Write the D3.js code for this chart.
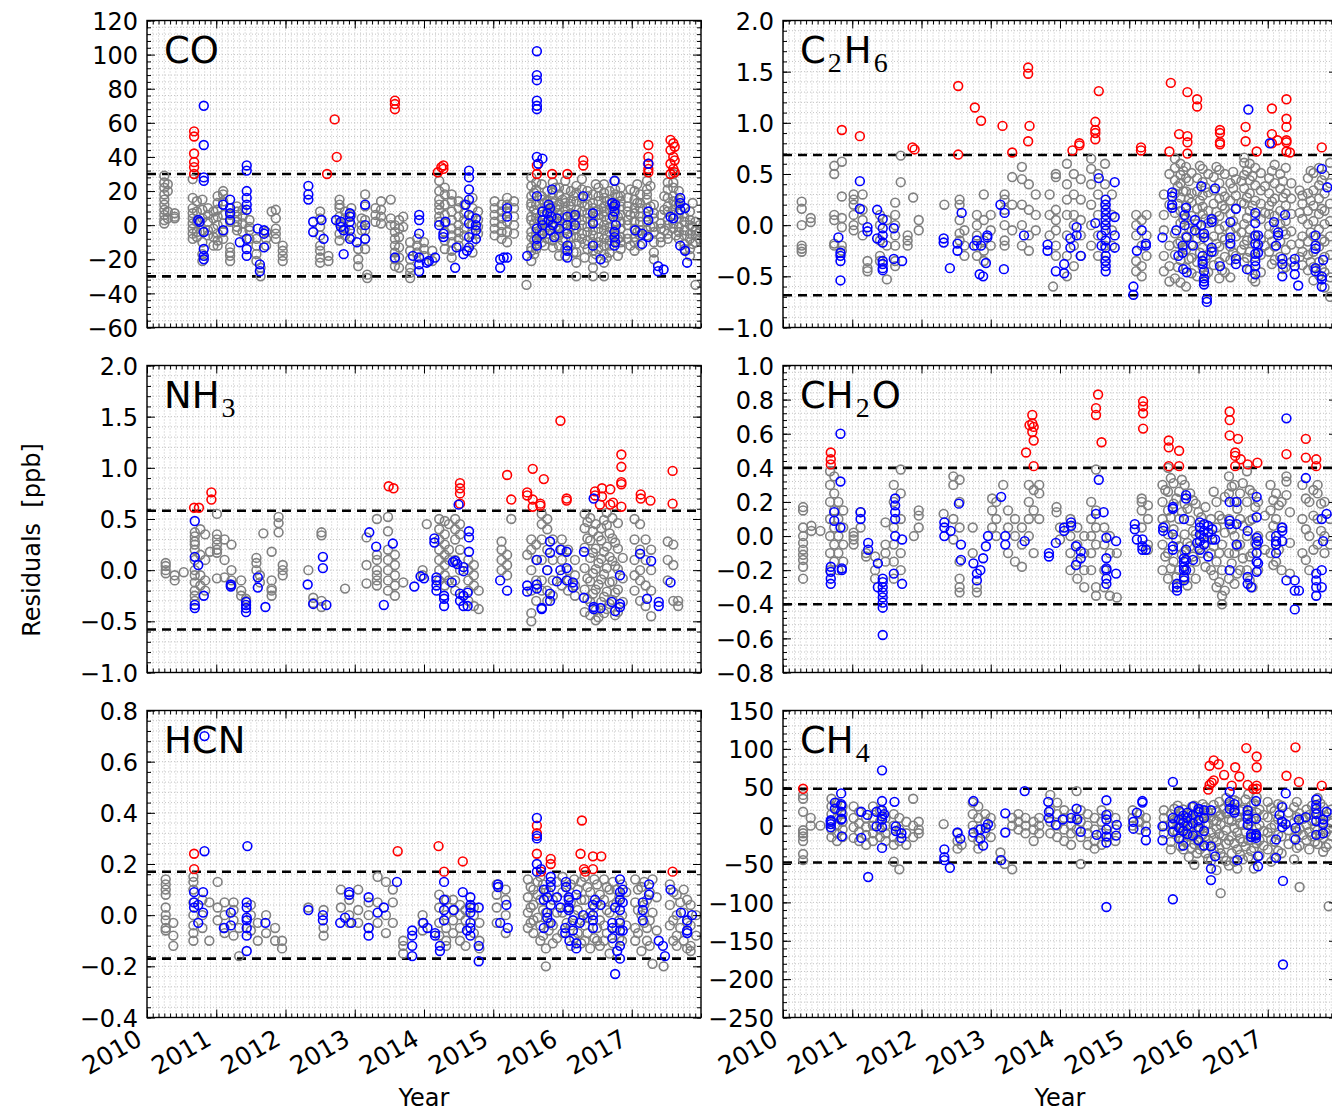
<!DOCTYPE html>
<html>
<head>
<meta charset="utf-8">
<script src="https://cdn.jsdelivr.net/npm/d3@7"></script>
<style>
body { margin: 0; background: #fff; }
svg { display: block; font-family: "DejaVu Sans", sans-serif; }
</style>
</head>
<body>
<svg id="chart" width="1332" height="1111"></svg>
<script>
const yearTicks = [2010, 2011, 2012, 2013, 2014, 2015, 2016, 2017];

// every series is a list of [decimal year, [residuals on that date]]
const coTicks = [-60, -40, -20, 0, 20, 40, 60, 80, 100, 120];
const coGray = [
  [2010.25,[29,25,22,18,15,12,9,6,3,1]],[2010.30,[24,20,8,4]],[2010.40,[7,5,4]],
  [2010.66,[27,16,10,7,4,1,-2,-5,-8]],[2010.72,[14,8,2,-4,-7]],[2010.80,[15,9,4,-3,-10,-17,-21]],
  [2010.88,[10,6,2,-3,-6]],[2010.96,[8,4,-2,-7,-12]],[2011.02,[17,13,9,5,0,-5,-9,-12]],
  [2011.10,[20,18,14,6,1,-4,-8]],[2011.20,[10,6,2,-13,-16,-18,-21]],[2011.30,[11,8,5,2,-1,-3]],
  [2011.38,[9,5,1,-4]],[2011.48,[3,-1,-3,-8]],[2011.58,[-8,-12,-17,-21]],[2011.64,[-25,-30]],
  [2011.72,[-4,-8,-12]],[2011.80,[8]],[2011.86,[9,4,-2,-5,-8]],[2011.96,[-12,-15,-18,-21]],
  [2012.50,[8,4,-1,-6,-12,-15,-19,-22]],[2012.62,[-18,-21]],[2012.78,[15,12,10,5,1,-5,-9]],
  [2012.86,[8,4,-2,-6]],[2012.95,[10,6,0,-7]],[2013.05,[-14,-20,-24]],[2013.10,[4,0,-3]],
  [2013.15,[18,11,3,-3,-8,-14]],[2013.18,[-29,-31]],[2013.30,[10,6,2]],[2013.38,[14,9,5,1]],
  [2013.52,[15,4,0]],[2013.58,[0,-4,-8,-12,-16,-20,-24]],[2013.64,[3,-2,-7,-13,-19,-25]],
  [2013.70,[5,-1]],[2013.80,[-10,-15,-20,-25,-28,-31]],[2013.90,[-8,-12,-16]],[2014.00,[-10,-14,-18]],
  [2014.12,[-15,-21]],[2014.22,[26,20,15,12,9,5,2]],[2014.30,[22,18,12,6,1,-4,-9,-14]],
  [2014.40,[18,14,8,3,-2,-6,-10,-15,-19]],[2014.50,[14,10,5,0,-4,-8,-12]],[2014.58,[12,7,3,-2,-6]],
  [2014.70,[16,10,5,0,-5,-10,-16]],[2014.78,[8,3,-1,-5]],[2015.02,[14,10,6,2,-2,-6]],
  [2015.12,[12,8,4,0,-4,-8]],[2015.20,[16,12,8,2,-4,-10]],[2015.30,[14,10,5,0,-5]],[2015.48,[-35]],
  [2015.55,[28,23,17,13,11,5,3,-4,-7,-13,-15,-21]],[2015.59,[19,9,1,-9,-17]],
  [2015.62,[25,21,12,7,4,-2,-5,-11,-14]],[2015.70,[24,17,15,10,6,1,-3,-6,-10]],[2015.74,[13,3,-12]],
  [2015.78,[20,14,11,8,2,-1,-5,-8]],[2015.86,[25,19,16,13,7,4,1,-4,-9,-13]],[2015.90,[22,10,-1,-6]],
  [2015.95,[22,18,12,9,6,2,-3,-6,-12,-18]],[2016.00,[15,4,-9]],
  [2016.04,[26,21,16,13,9,6,1,-2,-8,-14,-18]],[2016.12,[20,14,11,7,2,-1,-7,-12]],[2016.16,[17,5,-3,-16]],
  [2016.20,[23,19,14,9,6,3,-2,-7,-11,-16,-22,-30]],[2016.28,[27,21,16,13,8,3,0,-5,-8]],[2016.32,[11,-11,-19]],
  [2016.36,[20,17,12,7,4,-1,-4,-9,-14]],[2016.44,[18,13,10,5,2,-3,-6,-10,-15,-20,-25,-30]],[2016.48,[24,8,-17]],
  [2016.52,[22,17,14,9,6,1,-2,-7,-10,-14]],[2016.60,[24,19,16,11,8,5,0,-3,-8,-12,-17,-22,-30]],
  [2016.64,[14,3,-6,-19]],[2016.68,[20,15,12,9,4,-1,-4,-9,-12,-16]],[2016.76,[26,21,18,13,10,7,2,-3,-6,-10]],
  [2016.80,[17,5,-8,-18]],[2016.84,[22,17,14,11,6,2,-2,-7,-10,-14]],[2016.94,[16,11,8,3,0,-5,-8]],
  [2016.98,[21,6,-12]],[2017.04,[20,15,10,7,2,-2,-7,-10,-15]],[2017.08,[24,13,-4]],
  [2017.12,[18,13,10,5,2,-3,-6,-12]],[2017.22,[26,21,18,15,10,5,2,-3,-6]],[2017.27,[23,11,-1]],
  [2017.32,[12,7,4,-1,-4,-10,-16,-20]],[2017.42,[6,1,-2,-7,-10]],[2017.47,[17,9,-3]],
  [2017.52,[25,21,16,11,8,3,0,-5,-8]],[2017.60,[30,25,22,17,14,9,6,1,-2]],[2017.64,[12,-6]],
  [2017.68,[20,15,12,7,4,-1,-4,-8]],[2017.76,[10,5,2,-3,-6,-11,-14]],[2017.84,[8,3,0,-5,-8,-14,-18]],
  [2017.88,[13,-1,-11]],[2017.92,[2,-3,-6,-10,-35]],[2017.98,[0,-4,-8]]
];
const coBlue = [
  [2010.74,[3]],[2010.76,[2]],[2010.82,[70,47,28,26,-4,-14,-18,-20]],
  [2011.10,[12,-3]],[2011.20,[15,10,7,3]],[2011.34,[-10]],[2011.44,[35,32,20,16,12,9,-8,-14,-18]],
  [2011.60,[-2]],[2011.63,[-23,-27]],[2011.69,[-3,-5,-13]],
  [2012.33,[23,18,15]],[2012.40,[2,-4]],[2012.52,[3]],[2012.55,[-8]],[2012.73,[3]],[2012.80,[2,-1]],
  [2012.84,[-3,-17]],[2012.93,[7,5,2,-3,-8]],[2013.03,[-10]],[2013.15,[12,0,-8]],[2013.58,[-19]],
  [2013.84,[-18]],[2013.93,[6,3,-5,-19,-23,-27]],[2014.04,[-22]],[2014.07,[-21]],[2014.16,[-19]],
  [2014.22,[0]],[2014.28,[-5,-7]],[2014.31,[2]],[2014.45,[-25]],[2014.47,[-13]],[2014.57,[-17]],
  [2014.60,[12]],[2014.62,[-15]],[2014.65,[32,28,21,15,6,1,-7,-13]],[2014.75,[4,0,-3,-8]],
  [2015.10,[-20,-25]],[2015.15,[-19]],[2015.20,[10,5,-19]],[2015.49,[-18]],
  [2015.63,[102,88,85,73,70,68,40,17,-2,-8,-12]],[2015.65,[36]],[2015.71,[39,8,3,0,-5]],
  [2015.78,[7]],[2015.80,[12,3]],[2015.82,[10,-3]],[2015.84,[5]],[2015.85,[21]],[2015.86,[0]],
  [2015.88,[-7]],[2015.92,[4]],[2015.95,[-2]],
  [2016.07,[5,0,-5,-12,-15,-19]],[2016.18,[6,0]],[2016.30,[17]],[2016.44,[7,1,-12]],[2016.55,[-20]],
  [2016.72,[13]],[2016.73,[5]],[2016.74,[11]],[2016.75,[26,8,-4,-7,-12]],[2016.76,[12,-10]],[2016.77,[0]],
  [2017.05,[-3]],[2017.15,[-5,-11]],[2017.24,[36,8,3,-7]],[2017.38,[-24,-27]],[2017.46,[-26]],
  [2017.56,[5]],[2017.60,[4]],[2017.70,[16,13,9,-12]],[2017.77,[10,-15]],[2017.80,[-22]]
];
const coRed = [
  [2010.68,[55,52,42,37,34,30]],[2012.60,[30]],[2012.71,[62]],[2012.74,[40]],[2013.58,[73,71,68]],
  [2014.20,[31]],[2014.25,[34]],[2014.28,[35,33]],[2015.63,[35,30]],[2015.85,[30]],[2016.07,[30]],
  [2016.30,[38,35]],[2017.24,[47,40,36,33,31]],[2017.56,[50,44,36,30]],[2017.60,[48,40,33]],
  [2017.62,[46,38,31]]
];

const c2h6Ticks = [-1.0, -0.5, 0.0, 0.5, 1.0, 1.5, 2.0];
const c2h6Gray = [
  [2010.27,[0.23,0.16,0.0,-0.2,-0.23,-0.26]],[2010.40,[0.07,0.03]],[2010.74,[0.58,0.5,0.1,0.05,-0.18,-0.2]],
  [2010.85,[0.62,0.28,0.07,-0.02,-0.2,-0.25]],[2011.02,[0.3,0.25,0.2,0.1,0.0,-0.05]],
  [2011.15,[0.3,0.15,0.05,-0.1]],[2011.22,[-0.35,-0.42,-0.45]],[2011.40,[0.1,0.0,-0.15,-0.3,-0.35]],
  [2011.50,[0.05,-0.2,-0.53]],[2011.62,[0.22,0.1,0.0,-0.1,-0.2,-0.35,-0.4]],[2011.70,[0.68,0.42]],
  [2011.80,[-0.1,-0.15,-0.2]],[2011.88,[0.27]],[2011.96,[0.05,-0.05]],[2012.33,[0.2]],
  [2012.55,[0.25,0.2,0.05,-0.08,-0.15]],[2012.62,[-0.05,-0.2,-0.3]],[2012.80,[0.1,0.0,-0.1,-0.2,-0.3]],
  [2012.90,[0.3,0.05,-0.15,-0.25,-0.35]],[2013.00,[0.1,-0.05,-0.2]],
  [2013.20,[0.3,0.25,0.15,0.0,-0.15,-0.2]],[2013.31,[0.47,0.2,-0.05]],[2013.45,[0.57,0.45,0.2,0.0,-0.2]],
  [2013.55,[0.4,0.15,-0.1,-0.25]],[2013.65,[0.3,0.1,-0.05]],[2013.85,[0.3,0.1,-0.1]],[2013.90,[-0.6]],
  [2013.94,[0.5,0.47,0.15,0.05,-0.05,-0.2,-0.3]],[2014.10,[0.6,0.4,0.25,0.1,-0.1,-0.3,-0.5]],
  [2014.20,[0.5,0.3,0.1,0.0,-0.2,-0.4]],[2014.30,[0.45,0.25,0.05,-0.1,-0.3]],
  [2014.45,[0.65,0.55,0.4,0.2,0.0,-0.2]],[2014.55,[0.5,0.3,0.1,-0.1,-0.3]],
  [2014.65,[0.6,0.4,0.2,0.0,-0.2,-0.35]],[2014.75,[0.3,0.1,-0.05,-0.2]],
  [2015.10,[0.1,0.0,-0.1,-0.35,-0.45]],[2015.18,[0.05,-0.2,-0.4,-0.5]],[2015.25,[0.1,-0.1,-0.3]],
  [2015.50,[0.3,0.1,-0.05,-0.3,-0.45]],[2015.58,[0.5,0.2,-0.2,-0.4,-0.55]],
  [2015.66,[0.65,0.56,0.44,0.31,0.12,-0.08,-0.29,-0.52]],[2015.70,[0.38,0.21,-0.18,-0.41]],
  [2015.74,[0.6,0.49,0.41,0.27,0.14,0.02,-0.16,-0.34,-0.56]],[2015.78,[0.53,0.33,0.06,-0.22]],
  [2015.82,[0.57,0.46,0.33,0.19,0.07,-0.11,-0.24,-0.42,-0.6]],[2015.86,[0.43,0.26,-0.03,-0.33]],
  [2015.90,[0.51,0.31,0.22,0.09,-0.06,-0.19,-0.32,-0.47]],[2015.98,[0.46,0.33,0.16,0.01,-0.13,-0.36,-0.5]],
  [2016.02,[0.58,0.24,-0.08,-0.27]],[2016.06,[0.55,0.42,0.29,0.18,0.11,-0.09,-0.22,-0.41]],
  [2016.10,[0.37,0.06,-0.33,-0.49]],[2016.14,[0.5,0.32,0.14,0.02,-0.16,-0.29,-0.46]],
  [2016.22,[0.47,0.34,0.21,0.04,-0.11,-0.26,-0.39]],[2016.26,[0.57,0.13,-0.18]],
  [2016.30,[0.54,0.41,0.26,0.09,-0.04,-0.21,-0.36,-0.52]],[2016.34,[0.33,0.19,-0.12,-0.44]],
  [2016.38,[0.5,0.28,0.16,-0.01,-0.14,-0.31,-0.46]],[2016.46,[0.41,0.24,0.11,-0.06,-0.21,-0.34,-0.51]],
  [2016.50,[0.52,0.36,0.04,-0.27]],[2016.54,[0.45,0.29,0.16,-0.02,-0.11,-0.3]],
  [2016.62,[0.43,0.22,-0.07,-0.24]],[2016.66,[0.66,0.61,0.49,0.36,0.21,0.01,-0.19,-0.36]],
  [2016.70,[0.53,0.27,0.07,-0.15,-0.32]],[2016.74,[0.6,0.44,0.31,0.14,-0.04,-0.26,-0.44]],
  [2016.78,[0.48,0.19,-0.13,-0.52]],[2016.82,[0.56,0.39,0.24,0.09,-0.11,-0.31,-0.55]],
  [2016.90,[0.51,0.34,0.21,0.06,-0.14,-0.29,-0.46]],[2016.96,[0.38,0.12,-0.2]],
  [2017.02,[0.46,0.31,0.19,0.11,-0.01,-0.09,-0.26]],[2017.06,[0.53,0.23,-0.16,-0.38]],
  [2017.10,[0.59,0.41,0.26,0.09,-0.04,-0.21,-0.34]],[2017.18,[0.5,0.36,0.14,0.01,-0.16,-0.31]],
  [2017.22,[0.43,0.27,-0.06,-0.43]],[2017.26,[0.56,0.31,0.19,0.04,-0.09,-0.24,-0.41]],
  [2017.34,[0.41,0.26,0.11,-0.06,-0.19,-0.36]],[2017.46,[0.34,0.12,-0.18,-0.31]],
  [2017.50,[0.29,0.21,0.06,-0.11,-0.26,-0.39]],[2017.58,[0.46,0.31,0.14,0.01,-0.16,-0.29,-0.44]],
  [2017.62,[0.53,0.24,-0.07,-0.36]],[2017.66,[0.51,0.34,0.19,0.04,-0.11,-0.26,-0.41,-0.54]],
  [2017.74,[0.56,0.39,0.26,0.11,-0.04,-0.21,-0.36,-0.49]],[2017.78,[0.44,0.16,-0.14,-0.42]],
  [2017.82,[0.49,0.31,0.14,0.01,-0.16,-0.31,-0.46,-0.61]],[2017.90,[0.61,0.41,0.21,0.04,-0.11,-0.29,-0.51,-0.7]]
];
const c2h6Blue = [
  [2010.80,[-0.12]],[2010.83,[-0.27,-0.3,-0.35,-0.54]],[2011.11,[0.43,0.16]],[2011.22,[-0.02,-0.06]],
  [2011.36,[0.15,-0.13]],[2011.44,[0.06,-0.03,-0.1,-0.17,-0.35,-0.38,-0.42,-0.44]],[2011.60,[-0.03,-0.33]],
  [2011.72,[-0.35]],[2012.32,[-0.13,-0.17]],[2012.41,[-0.42]],[2012.52,[-0.18,-0.25]],[2012.58,[0.12]],
  [2012.76,[-0.2]],[2012.80,[-0.15]],[2012.84,[-0.48]],[2012.86,[-0.2]],[2012.89,[-0.5]],[2012.93,[-0.37]],
  [2012.95,[-0.1,-0.12]],[2013.14,[0.2]],[2013.19,[-0.43]],[2013.20,[0.12]],[2013.48,[-0.1]],
  [2013.82,[-0.19,-0.25]],[2013.94,[-0.45]],[2014.06,[-0.38,-0.47]],[2014.15,[-0.13,-0.22]],
  [2014.24,[-0.02,-0.1]],[2014.30,[-0.3]],[2014.51,[0.02]],[2014.56,[0.46]],[2014.60,[-0.1,-0.2]],
  [2014.66,[0.25,0.2,0.15,0.1,0.05,0.0,-0.05,-0.15,-0.22,-0.3,-0.35,-0.4,-0.45]],
  [2014.79,[0.42,0.08,-0.1,-0.22]],[2015.06,[-0.6,-0.68]],[2015.11,[-0.25]],[2015.18,[-0.05]],
  [2015.24,[-0.18,-0.2]],[2015.48,[-0.12]],[2015.62,[0.32,0.28,0.2,0.17]],[2015.68,[-0.05]],
  [2015.71,[-0.3]],[2015.77,[-0.2,-0.27]],[2015.78,[-0.43]],[2015.80,[0.1,0.0]],[2015.82,[0.17]],
  [2015.83,[-0.12,-0.46]],[2015.92,[-0.2]],[2015.95,[0.05,-0.05]],[2016.04,[0.38,0.0]],
  [2016.06,[-0.3,-0.35,-0.38]],[2016.08,[-0.08,-0.12,-0.45,-0.52,-0.55,-0.58]],[2016.12,[-0.72,-0.75]],
  [2016.19,[0.06,0.03,-0.22,-0.26]],[2016.24,[0.36]],[2016.31,[-0.4]],[2016.46,[0.03,-0.12,-0.18]],
  [2016.54,[0.16,-0.33,-0.38]],[2016.70,[-0.43]],[2016.72,[1.13]],
  [2016.82,[0.12,0.02,-0.1,-0.18,-0.28,-0.35,-0.4,-0.48]],[2016.86,[-0.1,-0.19,-0.27]],
  [2017.03,[0.8]],[2017.09,[0.03]],[2017.12,[-0.2]],[2017.15,[-0.07,-0.1]],[2017.21,[-0.33,-0.38,-0.5]],
  [2017.25,[0.1]],[2017.39,[-0.33,-0.4,-0.48]],[2017.44,[-0.59]],[2017.69,[-0.1,-0.2,-0.23,-0.42,-0.45]],
  [2017.78,[0.55,-0.5,-0.53,-0.6]],[2017.80,[-0.34]],[2017.86,[0.37]]
];
const c2h6Red = [
  [2010.85,[0.93]],[2011.11,[0.87]],[2011.87,[0.76]],[2011.90,[0.74]],[2012.53,[1.36,0.69]],
  [2012.77,[1.15]],[2012.86,[1.02]],[2013.17,[0.97]],[2013.31,[0.71]],[2013.54,[1.54,1.48,0.82]],
  [2013.56,[0.97]],[2014.18,[0.73]],[2014.28,[0.8,0.78]],[2014.51,[1.01,0.93,0.9,0.84]],[2014.56,[1.31]],
  [2015.17,[0.76,0.73]],[2015.58,[0.72]],[2015.60,[1.39]],[2015.72,[0.89]],[2015.84,[1.3,0.87,0.81,0.7]],
  [2015.98,[1.23,1.16]],[2016.31,[0.93,0.9,0.81,0.79]],[2016.68,[0.96,0.82]],[2016.84,[0.72]],
  [2017.06,[1.14,0.89,0.8]],[2017.14,[0.83]],[2017.27,[1.23,1.04,0.96,0.83,0.81,0.72]],[2017.32,[0.71]],
  [2017.78,[0.76]]
];

const nh3Ticks = [-1.0, -0.5, 0.0, 0.5, 1.0, 1.5, 2.0];
const nh3Gray = [
  [2010.27,[0.07,0.04,0.0,-0.03]],[2010.40,[-0.05,-0.1]],[2010.53,[-0.02]],
  [2010.69,[0.37,0.33,0.28,0.25,0.2,0.1,0.0,-0.05,-0.12,-0.2,-0.25,-0.3]],[2010.77,[0.4,0.15,-0.05,-0.15]],
  [2010.84,[0.35,0.1,-0.1,-0.2]],[2010.91,[0.18]],[2011.01,[0.55,0.35,0.3,0.25,0.2,0.17,-0.08]],
  [2011.12,[0.3,0.1,-0.07]],[2011.22,[0.25,0.0,-0.1,-0.15]],[2011.36,[-0.1,-0.2,-0.25]],[2011.43,[-0.28,-0.3]],
  [2011.58,[0.12,0.07,0.0]],[2011.63,[-0.05,-0.12]],[2011.68,[0.36]],[2011.80,[0.18,-0.1,-0.18,-0.2,-0.25]],
  [2011.90,[0.52,0.46,0.37]],[2011.96,[0.05,0.0,-0.05]],[2012.33,[0.0]],[2012.40,[-0.27,-0.32]],
  [2012.52,[0.37,0.34,-0.3,-0.36]],[2012.86,[-0.18]],[2013.17,[0.32,0.05,-0.13]],
  [2013.32,[0.5,0.15,0.1,0.0,-0.05,-0.1,-0.15]],[2013.48,[0.52,0.38,0.2,0.1,0.0,-0.1,-0.2]],
  [2013.58,[0.15,0.05,-0.05,-0.15,-0.25]],[2013.70,[-0.12]],[2013.98,[-0.05,0.0]],[2014.04,[0.45]],
  [2014.22,[0.5,0.4,0.3,0.2,0.1,0.0,-0.1]],[2014.30,[0.48,0.35,0.25,0.15,0.05,-0.05,-0.15]],
  [2014.36,[0.45,0.2,0.1,-0.1]],[2014.45,[0.5,0.4,0.3,0.1,-0.1,-0.2]],[2014.52,[0.45,0.35,0.2,0.0]],
  [2014.64,[0.1,0.0,-0.1,-0.2,-0.3]],[2014.72,[0.05,-0.05,-0.15,-0.35]],[2014.79,[-0.2,-0.38]],
  [2015.12,[0.28,0.2,0.1,0.0]],[2015.20,[0.15,0.05,-0.05]],[2015.26,[0.5]],[2015.49,[0.15]],
  [2015.55,[0.3,0.2,0.0,-0.2,-0.42,-0.5]],[2015.62,[0.25,0.1,-0.1,-0.3]],
  [2015.70,[0.55,0.45,0.3,0.1,-0.1,-0.2]],[2015.78,[0.5,0.4,0.2,0.0,-0.2,-0.3]],
  [2015.86,[0.3,0.1,-0.1,-0.25]],[2015.99,[0.3,0.2,0.1,-0.05,-0.15]],[2016.08,[0.2,0.0,-0.1,-0.2]],
  [2016.18,[0.1,-0.05,-0.15,-0.25]],[2016.32,[0.55,0.41,0.22,0.02,-0.19,-0.41]],[2016.36,[0.47,0.31,-0.08,-0.28]],
  [2016.40,[0.51,0.29,0.12,-0.11,-0.31,-0.44]],[2016.44,[0.38,0.17,-0.03,-0.23]],
  [2016.48,[0.45,0.21,0.01,-0.19,-0.39,-0.49]],[2016.52,[0.33,0.07,-0.14,-0.46]],
  [2016.56,[0.41,0.29,0.11,-0.09,-0.31]],[2016.60,[0.49,0.18,-0.04,-0.26,-0.42]],
  [2016.64,[0.56,0.44,0.23,0.02,-0.21,-0.38]],[2016.68,[0.36,0.13,-0.12,-0.33]],
  [2016.72,[0.51,0.31,0.09,-0.11,-0.29]],[2016.76,[0.27,0.04,-0.22,-0.44]],
  [2016.80,[0.46,0.21,0.01,-0.19,-0.41]],[2016.87,[0.12,-0.08,-0.31]],
  [2017.04,[0.5,0.3,0.1,-0.05,-0.2]],[2017.12,[0.45,0.2,0.0,-0.1,-0.3]],[2017.20,[0.3,0.1,-0.15,-0.35]],
  [2017.28,[0.2,0.0,-0.2,-0.45]],[2017.52,[0.28,0.1,-0.1]],[2017.60,[0.25,0.05,-0.3]],[2017.67,[-0.3,-0.35]]
];
const nh3Blue = [
  [2010.69,[0.48,0.13,-0.34,-0.37]],[2010.74,[0.05]],[2010.82,[-0.25]],[2011.21,[-0.14,-0.16]],
  [2011.43,[-0.31,-0.34,-0.37,-0.41]],[2011.60,[-0.07,-0.17]],[2011.71,[-0.36]],[2012.32,[-0.14]],
  [2012.40,[-0.33]],[2012.54,[0.13,0.02]],[2012.59,[-0.34]],[2013.21,[0.37]],[2013.31,[0.23]],
  [2013.42,[-0.34]],[2013.55,[0.26]],[2013.86,[-0.16]],[2013.95,[-0.06]],[2014.00,[-0.08]],
  [2014.15,[0.31,0.27]],[2014.18,[-0.07,-0.1,-0.15,-0.2]],[2014.29,[-0.25,-0.28,-0.35]],[2014.40,[-0.12]],
  [2014.42,[0.08]],[2014.45,[0.09]],[2014.48,[0.06]],[2014.50,[0.64]],[2014.52,[-0.23,-0.3]],
  [2014.57,[0.03,-0.01,-0.25,-0.35]],[2014.63,[-0.22,-0.35]],[2014.65,[0.38,0.32,0.18]],[2015.10,[-0.1]],
  [2015.20,[-0.2]],[2015.49,[-0.15,-0.21]],[2015.63,[0.1,-0.14,-0.18]],[2015.70,[-0.37,-0.38]],
  [2015.78,[0.0]],[2015.82,[0.28,0.17,-0.23,-0.3]],[2015.92,[-0.11]],[2015.97,[0.2,0.0]],
  [2016.06,[0.18,0.02,-0.1]],[2016.15,[-0.12,-0.17]],[2016.31,[0.18,-0.27]],[2016.45,[0.7,-0.36,-0.38]],
  [2016.55,[-0.37]],[2016.71,[-0.31]],[2016.76,[-0.4]],[2016.83,[-0.05,-0.33,-0.36]],[2017.12,[0.16]],
  [2017.22,[-0.28]],[2017.28,[0.09]],[2017.39,[-0.31,-0.35]],[2017.56,[-0.12]]
];
const nh3Red = [
  [2010.68,[0.61]],[2010.75,[0.61]],[2010.93,[0.76,0.69]],[2013.49,[0.82]],[2013.56,[0.8]],
  [2014.52,[0.85,0.8,0.75,0.65]],[2015.20,[0.93]],[2015.26,[0.69]],[2015.49,[0.76,0.73]],
  [2015.57,[0.99,0.69,0.62]],[2015.68,[0.65,0.63]],[2015.73,[0.89]],[2015.97,[1.46]],[2016.06,[0.7,0.68]],
  [2016.47,[0.77,0.73]],[2016.54,[0.64]],[2016.57,[0.8,0.72]],[2016.69,[0.79,0.64]],[2016.73,[0.66]],
  [2016.85,[1.13,1.01,0.86,0.84,0.62]],[2017.13,[0.74,0.7]],[2017.27,[0.68]],[2017.59,[0.97,0.65]]
];

const ch2oTicks = [-0.8, -0.6, -0.4, -0.2, 0.0, 0.2, 0.4, 0.6, 0.8, 1.0];
const ch2oGray = [
  [2010.29,[0.17,0.15,0.05,0.0,-0.04,-0.08,-0.11,-0.14,-0.18,-0.25]],[2010.41,[0.06,0.03]],[2010.54,[0.03]],
  [2010.68,[0.38,0.3,0.2,0.1,0.0,-0.1,-0.2]],[2010.74,[0.35,0.25,0.15,0.05,-0.05,-0.15]],
  [2010.80,[0.2,0.1,0.0,-0.1,-0.2]],[2010.87,[0.15,0.05,-0.05,-0.15]],[2011.02,[0.02,0.0,-0.02,-0.05]],
  [2011.12,[0.14,0.05]],[2011.20,[-0.1,-0.12]],[2011.33,[-0.12,-0.2,-0.25]],[2011.48,[0.08,-0.05,-0.1,-0.15]],
  [2011.60,[0.3,0.2,0.05,-0.05,-0.15,-0.25]],[2011.70,[0.39,0.25,0.1,-0.1,-0.2]],[2011.89,[0.0]],
  [2011.96,[0.15,0.12,0.05]],[2012.32,[0.13]],[2012.46,[0.35,0.3,0.1,-0.02]],
  [2012.55,[0.33,0.2,0.05,-0.15,-0.25,-0.3,-0.33]],[2012.74,[0.05,-0.1]],[2012.80,[-0.3,-0.33]],
  [2013.02,[0.22,0.15,0.05]],[2013.08,[0.2,0.1,0.0]],[2013.18,[0.3]],[2013.25,[0.15,0.05,-0.1]],
  [2013.35,[0.1,0.0,-0.15]],[2013.45,[0.05,-0.05,-0.18]],[2013.55,[0.3,0.2,0.1,0.0]],
  [2013.62,[0.27,0.15,-0.1]],[2013.70,[0.3,0.25,0.1]],[2013.95,[0.17,0.14]],[2014.00,[0.05,-0.02]],
  [2014.15,[0.1,0.0,-0.1,-0.2]],[2014.25,[0.05,-0.05,-0.15,-0.25]],[2014.35,[0.0,-0.1,-0.2,-0.3]],
  [2014.45,[0.2,0.1,0.0,-0.1,-0.2]],[2014.52,[0.39,0.15,0.05,-0.05,-0.3,-0.35]],
  [2014.64,[0.05,-0.05,-0.2,-0.3]],[2014.72,[0.0,-0.1,-0.35]],[2014.82,[-0.1,-0.36]],
  [2015.18,[0.22,0.2,0.15,0.05]],[2015.27,[0.18,0.1,-0.05,-0.08]],
  [2015.48,[0.3,0.2,0.1,-0.05,-0.2]],[2015.52,[0.27,0.06,-0.12]],
  [2015.56,[0.4,0.26,0.15,0.01,-0.1,-0.25]],[2015.60,[0.34,0.11,-0.19]],
  [2015.64,[0.31,0.19,0.04,-0.15,-0.3]],[2015.68,[0.22,-0.02,-0.24]],
  [2015.72,[0.26,0.1,-0.06,-0.2]],[2015.76,[0.33,0.14,-0.11]],
  [2015.80,[0.3,0.19,0.01,-0.09,-0.25]],[2015.84,[0.16,-0.04,-0.29]],
  [2015.88,[0.25,0.09,-0.06,-0.2]],[2015.92,[0.21,0.03,-0.12]],
  [2015.96,[0.19,0.01,-0.15,-0.25]],[2016.00,[0.14,-0.07]],[2016.04,[0.11,0.0,-0.1]],
  [2016.10,[0.17,-0.04,-0.18]],[2016.18,[0.1,0.01,-0.1,-0.2]],[2016.22,[0.26,-0.06,-0.23]],
  [2016.26,[0.2,0.05,-0.15,-0.3]],[2016.30,[0.12,-0.1,-0.27]],[2016.34,[0.1,-0.05,-0.2,-0.35,-0.4]],
  [2016.38,[0.23,0.02,-0.32]],[2016.44,[0.35,0.25,0.1,-0.1,-0.25]],[2016.48,[0.29,0.04,-0.16]],
  [2016.52,[0.3,0.2,0.0,-0.1,-0.28]],[2016.56,[0.16,-0.06,-0.22]],[2016.60,[0.25,0.1,-0.05,-0.2]],
  [2016.64,[0.31,0.06,-0.13]],[2016.70,[0.38,0.2,0.0,-0.2]],[2016.74,[0.27,0.09,-0.12,-0.26]],
  [2016.78,[0.25,0.1,-0.1,-0.3]],[2016.82,[0.17,-0.04]],[2016.86,[0.2,0.0,-0.2]],[2016.96,[0.12,-0.08]],
  [2017.04,[0.3,0.15,0.0,-0.1]],[2017.08,[0.21,0.06,-0.17]],[2017.12,[0.25,0.1,-0.05,-0.15]],
  [2017.16,[0.18,-0.08]],[2017.20,[0.2,0.05,-0.2]],[2017.27,[0.35,0.32,0.24]],[2017.32,[0.14,-0.04,-0.22]],
  [2017.50,[0.3,0.1,-0.1]],[2017.55,[0.22,0.04,-0.14]],[2017.60,[0.2,0.0,-0.2]],[2017.66,[0.27,0.12,-0.08]],
  [2017.72,[0.3,0.25,0.1,-0.05]],[2017.77,[0.19,0.03]],[2017.82,[0.2,0.0,-0.1]],[2017.90,[0.1,-0.05]]
];
const ch2oBlue = [
  [2010.69,[-0.18,-0.21,-0.25,-0.28]],[2010.74,[0.14,0.09]],[2010.83,[0.6,0.32,0.05]],[2010.85,[-0.19,-0.2]],
  [2011.12,[0.14,0.1]],[2011.23,[-0.04,-0.08]],[2011.37,[-0.16,-0.3]],
  [2011.44,[-0.25,-0.27,-0.3,-0.33,-0.36,-0.39,-0.42,-0.58]],[2011.60,[-0.22]],
  [2011.62,[0.22,0.18,0.14,0.1,0.0]],[2011.72,[-0.02,-0.28]],[2012.33,[0.08,0.05,0.0]],[2012.42,[0.03]],
  [2012.54,[0.19]],[2012.57,[-0.05,-0.14]],[2012.75,[-0.16]],[2012.80,[-0.22,-0.26]],[2012.85,[-0.2]],
  [2012.89,[-0.13]],[2012.93,[-0.06]],[2012.96,[0.0]],[2013.15,[0.23]],[2013.21,[0.0,-0.05]],
  [2013.49,[-0.03]],[2013.84,[-0.1,-0.12]],[2013.94,[-0.04]],[2014.06,[0.05,0.03]],[2014.16,[0.08,0.06]],
  [2014.23,[-0.06,-0.17]],[2014.30,[-0.09,-0.13]],[2014.52,[0.13]],[2014.56,[0.33]],[2014.63,[0.14]],
  [2014.67,[-0.01,-0.13,-0.19,-0.2,-0.25,-0.28]],[2014.81,[-0.03,-0.22]],[2015.08,[0.07,0.04]],
  [2015.11,[-0.02]],[2015.19,[-0.02,-0.06,-0.08]],[2015.24,[-0.08]],[2015.49,[0.05,0.03]],
  [2015.63,[0.17,0.16,0.01,-0.06,-0.08]],[2015.69,[-0.28,-0.3,-0.32]],
  [2015.79,[0.1,-0.13,-0.15,-0.18,-0.2,-0.24,-0.26]],[2015.82,[0.24,0.22,-0.08,-0.14,-0.2]],
  [2015.92,[-0.14]],[2015.98,[-0.04]],[2016.02,[0.08,0.05,0.01,-0.03,-0.08]],[2016.08,[0.07,0.03,-0.01,-0.05]],
  [2016.14,[0.06,0.02,-0.12]],[2016.20,[0.04,-0.02]],[2016.24,[-0.02]],[2016.45,[0.2,0.09,0.07,-0.2]],
  [2016.55,[0.2,0.07,-0.05]],[2016.71,[0.03,-0.24,-0.28]],[2016.76,[-0.3]],
  [2016.84,[0.23,0.11,-0.01,-0.05,-0.1,-0.15,-0.21]],[2016.86,[-0.03,-0.16]],
  [2017.12,[0.0,-0.03,-0.05,-0.1]],[2017.21,[0.05,0.03,-0.03]],[2017.27,[0.69,-0.26]],
  [2017.39,[-0.26,-0.32,-0.43]],[2017.45,[-0.32]],[2017.55,[0.34]],[2017.70,[-0.22,-0.26,-0.3,-0.35]],
  [2017.78,[0.1,-0.2,-0.3]],[2017.80,[-0.03]],[2017.85,[0.13]]
];
const ch2oRed = [
  [2010.69,[0.49,0.45,0.42]],[2013.51,[0.49]],[2013.56,[0.65]],[2013.60,[0.71,0.66,0.61]],
  [2013.62,[0.64,0.56,0.41]],[2014.52,[0.75,0.71]],[2014.55,[0.83]],[2014.60,[0.55]],
  [2015.20,[0.79,0.76,0.72,0.63]],[2015.57,[0.56,0.52,0.41]],[2015.72,[0.5,0.41]],
  [2016.45,[0.73,0.68,0.59]],[2016.53,[0.49,0.47,0.41]],[2016.57,[0.57]],[2016.61,[0.45]],
  [2016.71,[0.42]],[2016.85,[0.43]],[2017.27,[0.48]],[2017.55,[0.57,0.46]],[2017.70,[0.45,0.41]]
];

const hcnTicks = [-0.4, -0.2, 0.0, 0.2, 0.4, 0.6, 0.8];
const hcnGray = [
  [2010.27,[0.14,0.12,0.1,0.08,0.03,0.0,-0.02,-0.05,-0.06]],[2010.38,[-0.03,-0.08,-0.12]],
  [2010.67,[0.15,0.13,0.1,0.05,0.0,-0.04,-0.07,-0.1]],[2010.80,[0.06,0.0,-0.05]],[2010.90,[0.05,-0.1]],
  [2011.02,[0.13,0.03,-0.02]],[2011.12,[0.05,0.0,-0.05,-0.07]],[2011.25,[0.05,0.02,-0.02,-0.08]],
  [2011.33,[-0.05,-0.16]],[2011.50,[0.04,0.0,-0.06]],[2011.60,[-0.03,-0.1]],[2011.72,[0.0,-0.07]],
  [2011.85,[-0.05,-0.1]],[2011.95,[-0.1,-0.13]],[2012.33,[0.03]],[2012.55,[0.02,-0.05,-0.08]],
  [2012.80,[0.1,0.03]],[2012.92,[0.06,0.0,-0.03]],[2013.05,[0.1,0.02,-0.03]],[2013.20,[0.05,0.0,-0.05]],
  [2013.33,[0.15,0.05,-0.03]],[2013.45,[0.13,0.0,-0.07]],[2013.55,[0.1,0.05,-0.03]],
  [2013.70,[-0.1,-0.12,-0.15]],[2013.98,[0.0,-0.03,-0.06]],[2014.22,[0.08,0.03,-0.03,-0.08]],
  [2014.32,[0.06,0.0,-0.05,-0.1,-0.12]],[2014.42,[0.06,0.02,-0.02,-0.07]],[2014.52,[0.04,0.0,-0.05,-0.1]],
  [2014.60,[0.02,-0.02,-0.12]],[2014.72,[0.03,0.0,-0.07]],[2014.80,[-0.03,-0.1,-0.13]],
  [2015.05,[0.12,0.08,0.03,-0.03]],[2015.18,[0.1,0.06,0.0,-0.07]],
  [2015.50,[0.14,0.07,0.01,-0.05]],[2015.54,[0.11,0.03,-0.03]],[2015.58,[0.1,0.04,-0.02,-0.07]],
  [2015.64,[0.13,0.08,-0.01]],[2015.68,[0.15,0.06,-0.04,-0.1]],[2015.72,[0.12,0.02,-0.08]],
  [2015.76,[0.1,0.01,-0.13,-0.2]],[2015.80,[0.09,-0.03,-0.06]],[2015.86,[0.06,-0.04,-0.11]],
  [2015.92,[0.13,0.01,-0.09]],[2016.00,[0.15,0.09,0.01,-0.07]],[2016.06,[0.11,0.03,-0.03]],
  [2016.12,[0.12,0.05,-0.04,-0.12]],[2016.17,[0.14,0.0,-0.09]],[2016.22,[0.1,0.02,-0.07]],
  [2016.27,[0.13,0.06,-0.02,-0.11]],[2016.32,[0.15,0.06,-0.04,-0.1]],[2016.36,[0.11,-0.01,-0.07]],
  [2016.40,[0.09,0.01,-0.13]],[2016.46,[0.14,0.03,-0.09]],[2016.50,[0.12,0.05,-0.05,-0.1]],
  [2016.54,[0.08,-0.02,-0.12]],[2016.60,[0.14,0.06,-0.04,-0.1]],[2016.64,[0.11,0.02,-0.07]],
  [2016.68,[0.1,0.01,-0.15]],[2016.73,[0.13,0.04,-0.11]],[2016.78,[0.1,0.05,-0.05]],
  [2016.82,[0.07,-0.02,-0.09]],[2016.86,[0.12,0.0,-0.1]],[2016.92,[0.09,-0.04]],
  [2017.05,[0.14,0.05,-0.05,-0.1]],[2017.09,[0.1,0.02,-0.07]],[2017.14,[0.11,0.0,-0.14]],
  [2017.18,[0.13,0.04,-0.03]],[2017.22,[0.06,-0.05,-0.1]],[2017.26,[0.09,-0.02,-0.12]],
  [2017.30,[0.14,0.01,-0.19]],[2017.36,[0.07,-0.06]],[2017.46,[-0.2]],[2017.55,[0.12,0.04,-0.04]],
  [2017.60,[0.09,-0.02,-0.1]],[2017.65,[0.08,0.0,-0.08,-0.12]],[2017.70,[0.05,-0.05]],
  [2017.75,[0.1,0.01,-0.1]],[2017.80,[0.06,-0.03,-0.13]],[2017.85,[0.04,-0.04,-0.12,-0.14]],
  [2017.93,[0.0,-0.08]]
];
const hcnBlue = [
  [2010.68,[0.09,0.05,0.03]],[2010.74,[0.04,-0.03]],[2010.81,[0.09,0.01]],[2010.83,[0.7,0.25]],
  [2011.11,[-0.05]],[2011.21,[0.01,-0.04]],[2011.44,[0.05,0.03,-0.01,-0.02,-0.05,-0.08,-0.14]],
  [2011.45,[0.27]],[2011.71,[-0.03]],[2012.33,[0.02]],[2012.54,[0.0,-0.02]],[2012.79,[-0.03]],
  [2012.86,[-0.01]],[2012.92,[0.09,0.08]],[2012.95,[-0.03]],[2013.20,[0.07,-0.05,-0.08]],[2013.33,[0.01]],
  [2013.42,[0.03]],[2013.61,[0.13]],[2013.83,[-0.06,-0.08,-0.12,-0.16]],[2013.99,[-0.03]],
  [2014.05,[-0.05]],[2014.16,[-0.07,-0.08]],[2014.23,[-0.12,-0.14]],[2014.29,[0.13,0.06,0.02,-0.02]],
  [2014.43,[0.02]],[2014.56,[0.09]],[2014.62,[-0.06]],[2014.67,[0.07,0.04,0.03,0.01,-0.03,-0.05,-0.08]],
  [2014.79,[0.03,-0.12,-0.18]],[2015.07,[0.12,0.11]],[2015.10,[-0.03]],[2015.19,[0.04]],[2015.21,[-0.05]],
  [2015.63,[0.38,0.31,0.3,0.2,0.17]],[2015.69,[0.18]],[2015.73,[0.1,0.06,-0.05]],[2015.78,[0.07,0.01,-0.01]],
  [2015.83,[0.15,0.13,0.11,0.04,-0.03]],[2015.92,[0.07]],[2015.97,[0.03]],[2016.04,[-0.05,-0.07]],
  [2016.05,[0.13,0.11]],[2016.09,[0.07,0.06,0.03,0.02]],[2016.10,[-0.1]],[2016.15,[-0.02,-0.06]],
  [2016.20,[0.08,-0.11,-0.13]],[2016.25,[-0.03]],[2016.30,[0.0]],[2016.44,[0.04,0.0,-0.02,-0.05]],
  [2016.47,[0.06]],[2016.55,[0.04]],[2016.72,[-0.03,-0.05,-0.09]],[2016.76,[0.03,-0.23]],[2016.79,[-0.14]],
  [2016.83,[0.14,0.09,0.06,0.02,-0.03,-0.06,-0.12,-0.17]],[2016.87,[0.1,0.05,-0.06]],
  [2017.16,[0.05,0.02,-0.02]],[2017.25,[0.12,0.08]],[2017.39,[-0.1]],[2017.45,[-0.12]],[2017.48,[-0.16]],
  [2017.56,[0.1]],[2017.71,[0.01]],[2017.80,[-0.02,-0.06,-0.07]],[2017.87,[0.0]]
];
const hcnRed = [
  [2010.68,[0.24,0.18]],[2013.62,[0.25]],[2014.21,[0.27]],[2014.29,[0.17]],[2014.56,[0.21]],
  [2015.63,[0.35,0.32,0.24]],[2015.69,[0.17]],[2015.83,[0.22,0.2]],[2016.26,[0.24]],[2016.28,[0.37]],
  [2016.31,[0.18]],[2016.33,[0.17]],[2016.44,[0.23,0.18]],[2016.56,[0.23]],[2017.59,[0.17]]
];

const ch4Ticks = [-250, -200, -150, -100, -50, 0, 50, 100, 150];
const ch4Gray = [
  [2010.29,[40,35,18,-6,-10,-14,-20,-37,-45]],[2010.40,[10,0]],[2010.54,[0]],[2010.70,[35,25,15,5,-5,-15]],
  [2010.78,[30,20,10,0,-10,-20]],[2010.86,[25,15,5,-5,-15]],[2011.02,[25,10,-2,-16]],[2011.10,[18,3,-8,-20]],
  [2011.20,[10,-2,-12,-25]],[2011.30,[25,10,0,-10,-20]],[2011.40,[20,5,-5,-15]],[2011.48,[10,0,-10,-20]],
  [2011.60,[15,0,-15,-25,-47]],[2011.68,[10,-5,-20,-57]],[2011.78,[5,-10,-25]],[2011.88,[35,0,-15]],
  [2011.96,[5,-5,-10]],[2012.32,[2]],[2012.52,[-10,-20,-30]],[2012.58,[-25]],[2012.74,[30,15,0,-15]],
  [2012.82,[25,10,-5,-20,-30]],[2012.92,[15,5,-10]],[2013.00,[10,0,-15]],[2013.14,[-35,-45]],[2013.20,[-50]],
  [2013.31,[10,0,-57]],[2013.40,[15,5,-5]],[2013.50,[10,0,-10]],[2013.62,[5,-5,-20]],[2013.70,[10,0,-10]],
  [2013.86,[40,20,5,-10]],[2013.96,[30,15,0,-15]],[2014.06,[20,10,-5,-20]],[2014.16,[15,0,-10,-25]],
  [2014.24,[45,10,-5]],[2014.30,[20,5,-15,-50]],[2014.40,[15,0,-10,-25]],[2014.50,[10,-5,-20,-30]],
  [2014.60,[20,5,-10,-25]],[2014.70,[15,0,-15]],[2014.80,[10,-5,-20]],[2015.05,[20,10,0]],
  [2015.15,[15,5,-5]],[2015.24,[10,0]],[2015.50,[20,10,0,-10]],
  [2015.60,[15,2,-21,-31]],[2015.65,[22,8,-6]],[2015.70,[26,11,-9]],[2015.74,[17,-2,-16,-27]],
  [2015.78,[21,6,-4,-19,-31]],[2015.82,[12,-8,-22]],[2015.86,[16,1,-14,-41]],[2015.90,[24,9,-3,-29]],
  [2015.94,[26,11,-11,-24,-51]],[2015.98,[14,-6,-18,-36]],[2016.02,[21,6,-4,-21,-31]],[2016.06,[28,12,-12,-27]],
  [2016.10,[24,16,1,-14,-36]],[2016.14,[17,3,-19,-43]],[2016.18,[11,-9,-26,-46]],[2016.22,[27,7,-16,-33]],
  [2016.26,[19,6,-4,-21,-58]],[2016.30,[31,12,-11,-29]],[2016.32,[14,1,-36,-88]],[2016.36,[22,-13,-41]],
  [2016.40,[36,16,-6,-24,-46]],[2016.44,[28,8,-19,-52]],[2016.48,[24,6,-14,-36]],[2016.52,[33,-3,-23,-47]],
  [2016.56,[31,11,-9,-31,-56]],[2016.60,[19,3,-17,-38]],[2016.64,[21,1,-21,-44]],[2016.68,[34,13,-8,-27]],
  [2016.72,[41,19,1,-19,-41]],[2016.76,[26,6,-14,-33]],[2016.80,[29,11,-11,-29,-56]],[2016.84,[37,17,-3,-23]],
  [2016.88,[21,1,-19,-39]],[2016.94,[14,-7,-26]],[2017.00,[31,11,-9,-31]],[2017.05,[23,-3,-18,-47]],
  [2017.10,[19,1,-21,-41]],[2017.15,[28,8,-12,-33]],[2017.20,[26,6,-14,-36]],[2017.30,[17,-6,-24]],
  [2017.38,[24,4,-16,-44]],[2017.42,[31,11,-8,-29]],[2017.46,[16,-4,-26,-80]],[2017.51,[9,-12]],
  [2017.56,[21,1,-19]],[2017.60,[14,-8,-31]],[2017.64,[26,6,-14]],[2017.68,[17,-3,-21]],
  [2017.72,[36,16,-6,-24]],[2017.76,[29,9,-12]],[2017.80,[24,4,-16,-34]],[2017.84,[11,-9,-28]],
  [2017.88,[16,-4,-24,-105]],[2017.92,[21,3,-13]]
];
const ch4Blue = [
  [2010.69,[7,5,2,-2]],[2010.75,[30,22]],[2010.84,[42,28,26,18,8]],[2010.85,[9,-14]],[2011.13,[18,-16]],
  [2011.22,[14]],[2011.23,[-67]],[2011.35,[18,-1]],[2011.43,[72,32,20,12,8,-2,-29]],[2011.46,[15]],
  [2011.61,[31]],[2011.63,[-1,-7]],[2011.71,[-10,-16]],[2012.33,[-31,-41,-45]],[2012.41,[-55]],
  [2012.52,[-9]],[2012.56,[-17]],[2012.75,[32,-9]],[2012.85,[-5,-17]],[2012.89,[-26]],[2012.93,[-3]],
  [2012.96,[2]],[2013.15,[-45]],[2013.21,[16,-9]],[2013.49,[45]],[2013.83,[31]],[2013.84,[18,10]],
  [2013.94,[1]],[2014.04,[8]],[2014.16,[10]],[2014.24,[22]],[2014.25,[8]],[2014.30,[-8]],[2014.53,[-12]],
  [2014.67,[33,14,8,-5,-14,-22,-106]],[2014.81,[-13]],[2014.82,[1]],[2015.06,[5,-4]],[2015.11,[17]],
  [2015.19,[32,30]],[2015.24,[-8,-19]],[2015.48,[-1,-19]],[2015.63,[57,10,2,-8,-96]],[2015.72,[19,8,-3,-17]],
  [2015.78,[13,4,-7,-26]],[2015.84,[17,10,0,-11]],[2015.92,[25,14,3,-13]],[2016.00,[22,18,7,-2,-19]],
  [2016.08,[20,10,-7,-26]],[2016.18,[20,-27,-56,-71]],[2016.24,[-40]],[2016.45,[44,31,22]],
  [2016.52,[28,20,17]],[2016.56,[-45]],[2016.71,[20,14,9,1]],[2016.76,[-11,-15]],[2016.83,[32,9,-11,-13,-16]],
  [2016.86,[-40,-53]],[2017.12,[-18,-42]],[2017.17,[14]],[2017.21,[24,5,-2]],[2017.22,[-72,-181]],
  [2017.26,[42,2]],[2017.40,[-3,-18]],[2017.45,[8]],[2017.55,[11]],[2017.70,[34,27,22,15,6,-12]],
  [2017.80,[8,2,-10]],[2017.85,[18]]
];
const ch4Red = [
  [2010.29,[48]],[2016.14,[47]],[2016.16,[78,53]],[2016.19,[56]],[2016.22,[85,59]],[2016.29,[80]],
  [2016.37,[66]],[2016.48,[52]],[2016.53,[76]],[2016.59,[64]],[2016.69,[101]],[2016.71,[53]],
  [2016.79,[48]],[2016.84,[90,76,52,48]],[2017.27,[65]],[2017.40,[102]],[2017.45,[57]],[2017.78,[52]]
];

// panel layout: 2 columns x 3 rows, right column is cut off by the figure edge
const colX = [147, 783];
const rowY = [20.5, 365.5, 710.5];
const plotW = 554;
const plotH = 307;

const fmtInt = d3.format('d');
const fmt1 = d3.format('.1f');

const panels = [
  { label: [['CO']], ticks: coTicks, fmt: fmtInt, limit: 30, gray: coGray, blue: coBlue, red: coRed, col: 0, row: 0 },
  { label: [['C'], ['2', true], ['H'], ['6', true]], ticks: c2h6Ticks, fmt: fmt1, limit: 0.685, gray: c2h6Gray, blue: c2h6Blue, red: c2h6Red, col: 1, row: 0 },
  { label: [['NH'], ['3', true]], ticks: nh3Ticks, fmt: fmt1, limit: 0.58, gray: nh3Gray, blue: nh3Blue, red: nh3Red, col: 0, row: 1 },
  { label: [['CH'], ['2', true], ['O']], ticks: ch2oTicks, fmt: fmt1, limit: 0.4, gray: ch2oGray, blue: ch2oBlue, red: ch2oRed, col: 1, row: 1 },
  { label: [['HCN']], ticks: hcnTicks, fmt: fmt1, limit: 0.17, gray: hcnGray, blue: hcnBlue, red: hcnRed, col: 0, row: 2 },
  { label: [['CH'], ['4', true]], ticks: ch4Ticks, fmt: fmtInt, limit: 48, gray: ch4Gray, blue: ch4Blue, red: ch4Red, col: 1, row: 2 },
];

const flatten = cols => cols.flatMap(([yr, vals]) => vals.map(v => ({ yr, v })));

const svg = d3.select('#chart');

const styleAxis = (sel) => {
  sel.attr('font-size', 24).attr('font-family', '"DejaVu Sans", sans-serif');
  sel.select('.domain').remove();
  sel.selectAll('line').attr('stroke', '#000').attr('stroke-width', 1);
  sel.selectAll('text').attr('fill', '#000');
};

panels.forEach((p, i) => {
  const x0 = colX[p.col];
  const y0 = rowY[p.row];
  const lo = p.ticks[0];
  const hi = p.ticks[p.ticks.length - 1];
  const step = p.ticks[1] - p.ticks[0];

  const x = d3.scaleLinear().domain([2010, 2018]).range([x0, x0 + plotW]);
  const y = d3.scaleLinear().domain([lo, hi]).range([y0 + plotH, y0]);

  const minorX = d3.range(0, 97).map(k => 2010 + k / 12);
  const minorY = d3.range(0, (p.ticks.length - 1) * 5 + 1).map(k => lo + k * step / 5);

  const g = svg.append('g');

  g.append('clipPath').attr('id', 'clip' + i)
    .append('rect').attr('x', x0).attr('y', y0).attr('width', plotW).attr('height', plotH);

  // dotted grid
  const grid = g.append('g');
  grid.selectAll('line.vx').data(minorX).join('line')
    .attr('x1', d => x(d)).attr('x2', d => x(d))
    .attr('y1', y0).attr('y2', y0 + plotH)
    .attr('stroke', '#b5b5b5').attr('stroke-width', 0.8).attr('stroke-dasharray', '1,2');
  grid.selectAll('line.hy').data(minorY).join('line')
    .attr('x1', x0).attr('x2', x0 + plotW)
    .attr('y1', d => y(d)).attr('y2', d => y(d))
    .attr('stroke', '#b5b5b5').attr('stroke-width', 0.8).attr('stroke-dasharray', '1,2');

  // threshold lines
  g.append('g').selectAll('line').data([p.limit, -p.limit]).join('line')
    .attr('x1', x0).attr('x2', x0 + plotW)
    .attr('y1', d => y(d)).attr('y2', d => y(d))
    .attr('stroke', '#000').attr('stroke-width', 2.6).attr('stroke-dasharray', '9,6');

  // points
  const pts = g.append('g').attr('clip-path', `url(#clip${i})`);
  [[p.gray, '#808080'], [p.red, '#ff0000'], [p.blue, '#0000ff']].forEach(([cols, color]) => {
    pts.append('g').selectAll('circle').data(flatten(cols)).join('circle')
      .attr('cx', d => x(d.yr)).attr('cy', d => y(d.v)).attr('r', 4.4)
      .attr('fill', 'none').attr('stroke', color).attr('stroke-width', 1.6);
  });

  // axes with inward ticks on all four sides
  const bottomLabels = p.row === 2;
  const yl = g.append('g').attr('transform', `translate(${x0},0)`)
    .call(d3.axisLeft(y).tickValues(p.ticks).tickSize(-8).tickPadding(9).tickFormat(p.fmt));
  styleAxis(yl);
  yl.selectAll('text').attr('dy', '0.36em');
  styleAxis(g.append('g').attr('transform', `translate(${x0},0)`)
    .call(d3.axisLeft(y).tickValues(minorY).tickSize(-4).tickFormat('')));
  styleAxis(g.append('g').attr('transform', `translate(${x0 + plotW},0)`)
    .call(d3.axisRight(y).tickValues(p.ticks).tickSize(-8).tickFormat('')));
  styleAxis(g.append('g').attr('transform', `translate(${x0 + plotW},0)`)
    .call(d3.axisRight(y).tickValues(minorY).tickSize(-4).tickFormat('')));
  styleAxis(g.append('g').attr('transform', `translate(0,${y0})`)
    .call(d3.axisTop(x).tickValues(yearTicks.concat([2018])).tickSize(-8).tickFormat('')));
  styleAxis(g.append('g').attr('transform', `translate(0,${y0})`)
    .call(d3.axisTop(x).tickValues(minorX).tickSize(-4).tickFormat('')));
  styleAxis(g.append('g').attr('transform', `translate(0,${y0 + plotH})`)
    .call(d3.axisBottom(x).tickValues(minorX).tickSize(-4).tickFormat('')));
  const xb = g.append('g').attr('transform', `translate(0,${y0 + plotH})`)
    .call(d3.axisBottom(x).tickValues(yearTicks).tickSize(-8)
      .tickFormat(bottomLabels ? fmtInt : ''));
  styleAxis(xb);
  xb.selectAll('text')
    .attr('x', 0).attr('y', 0).attr('dy', '0.75em')
    .attr('font-size', 25)
    .attr('text-anchor', 'end')
    .attr('transform', 'translate(-13,10) rotate(-30)');

  // frame
  g.append('rect').attr('x', x0).attr('y', y0).attr('width', plotW).attr('height', plotH)
    .attr('fill', 'none').attr('stroke', '#000').attr('stroke-width', 1.4);

  // species label with math-style subscripts
  const t = g.append('text').attr('x', x0 + 17).attr('y', y0 + 42)
    .attr('font-size', 37).attr('fill', '#000');
  let shifted = false;
  p.label.forEach(([s, sub]) => {
    const ts = t.append('tspan').text(s);
    if (sub) {
      ts.attr('font-family', '"Liberation Serif", "DejaVu Serif", serif').attr('font-size', 28)
        .attr('dx', 2).attr('dy', shifted ? 0 : 9);
      shifted = true;
    } else if (shifted) {
      ts.attr('dx', 2).attr('dy', -9);
      shifted = false;
    }
  });
});

// axis titles
[colX[0], colX[1]].forEach(cx => {
  svg.append('text').attr('x', cx + plotW / 2).attr('y', 1106)
    .attr('text-anchor', 'middle').attr('font-size', 24).attr('fill', '#000').text('Year');
});
svg.append('text')
  .attr('transform', 'translate(40,540) rotate(-90)')
  .attr('text-anchor', 'middle').attr('font-size', 24).attr('fill', '#000')
  .style('white-space', 'pre')
  .text('Residuals  [ppb]');
</script>
</body>
</html>
